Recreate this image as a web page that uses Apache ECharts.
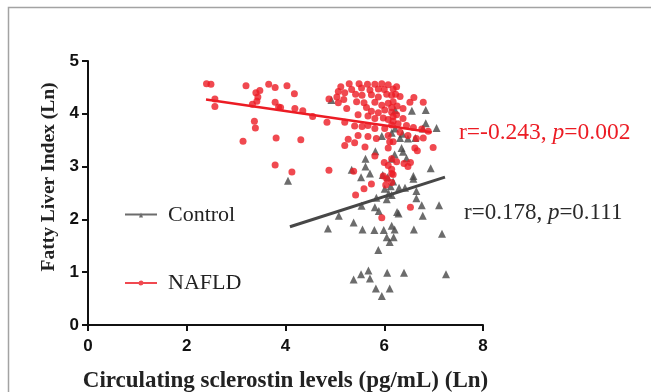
<!DOCTYPE html>
<html>
<head>
<meta charset="utf-8">
<script src="https://cdn.jsdelivr.net/npm/echarts@6/dist/echarts.min.js"></script>
<style>
  html, body { margin: 0; padding: 0; background: #fff; }
  #chart { width: 651px; height: 392px; }
</style>
</head>
<body>
<div id="chart"></div>
<script>
// sclerostin (Ln) vs fatty liver index (Ln)
const nafldPoints = [
  [2.40,4.57],[2.49,4.56],[3.20,4.53],[3.66,4.56],[3.79,4.50],[4.03,4.53],[3.48,4.44],[3.40,4.40],[4.18,4.38],[3.44,4.32],
  [2.57,4.28],[3.42,4.24],[3.33,4.18],[3.79,4.22],[2.57,4.14],[3.86,4.13],[3.90,4.12],[4.19,4.10],[4.35,4.06],[4.55,3.95],
  [4.84,3.84],[4.88,4.28],[3.37,3.86],[3.39,3.73],[3.14,3.48],[3.81,3.54],[4.31,3.51],[3.79,3.03],[4.13,2.90],[4.88,2.93],
  [5.29,4.57],[5.49,4.57],[5.66,4.56],[5.81,4.56],[5.95,4.57],[6.08,4.55],[5.12,4.51],[5.34,4.46],[5.54,4.49],[5.71,4.45],
  [5.88,4.47],[6.00,4.46],[5.07,4.42],[5.20,4.40],[5.04,4.32],[5.18,4.27],[5.42,4.37],[5.55,4.35],[5.74,4.36],[5.88,4.32],
  [6.05,4.37],[6.15,4.35],[5.07,4.21],[5.24,4.10],[5.44,4.23],[5.59,4.21],[5.64,4.12],[5.81,4.22],[5.95,4.16],[6.08,4.20],
  [6.15,4.12],[5.74,4.05],[5.88,4.02],[6.01,4.07],[6.15,4.03],[5.47,3.98],[5.67,3.96],[5.81,3.91],[5.98,3.92],[6.08,3.89],
  [6.18,3.95],[5.20,3.84],[5.40,3.77],[5.55,3.76],[5.67,3.78],[5.81,3.72],[6.01,3.72],[6.15,3.79],[5.27,3.52],[5.47,3.59],
  [5.67,3.57],[5.84,3.53],[6.08,3.59],[5.20,3.40],[5.40,3.45],[5.61,3.37],[6.11,3.47],
  [6.18,4.47],[6.25,4.51],[6.23,4.37],[6.32,4.33],[6.52,4.22],[6.60,4.31],[6.79,4.22],[6.18,4.23],[6.26,4.15],[6.38,4.10],
  [6.25,3.98],[6.38,3.91],[6.18,3.86],[6.28,3.81],[6.45,3.78],[6.59,3.74],[6.76,3.71],[6.89,3.67],[6.32,3.65],[6.48,3.59],
  [6.65,3.53],[6.79,3.54],[6.99,3.36],[6.62,3.35],[6.18,3.47],
  [6.08,3.35],[5.38,2.91],[5.81,3.20],[6.00,3.08],[6.08,3.02],[6.15,3.15],[5.98,2.82],[6.05,2.77],[6.15,2.87],[5.74,2.67],
  [5.59,2.58],[6.03,2.65],[5.42,2.46],[5.95,2.03],
  [6.67,3.30],[6.25,3.09],[6.40,3.06],[6.53,3.08],[6.48,3.00],[6.15,2.95],[6.18,2.85],[6.15,2.70],[6.53,2.23]
];

const controlPoints = [
  [4.05,2.73],[6.22,4.07],[6.56,4.06],[6.84,4.07],[6.84,3.82],[6.78,3.72],[7.06,3.73],[6.37,3.62],[6.32,3.54],[6.48,3.53],
  [6.63,3.54],[6.22,3.72],[6.15,3.64],[6.35,3.35],[4.93,4.26],[5.95,3.58],
  [5.82,3.29],[5.62,3.15],[5.62,3.00],[5.34,2.94],[5.71,2.87],[5.53,2.80],[6.07,2.80],[6.01,2.58],[6.13,2.63],[5.84,2.41],
  [5.54,2.26],[5.81,2.23],[5.89,2.16],[5.08,2.07],[5.38,1.94],
  [6.38,3.28],[6.21,3.23],[6.15,3.15],[6.45,3.16],[6.94,2.97],[6.59,2.82],[6.59,2.77],[6.18,2.72],[6.30,2.60],[6.42,2.60],
  [6.65,2.40],[6.76,2.27],[7.11,2.27],[6.26,2.14],[6.78,2.07],[6.15,2.46],
  [5.97,2.84],[6.65,2.54],[6.09,2.49],[6.05,2.38],[6.29,2.11],[4.86,1.83],[5.56,1.81],[5.80,1.80],[5.99,1.80],[6.15,1.88],
  [6.21,1.81],[6.05,1.66],[6.19,1.66],[6.11,1.57],[6.60,1.81],[7.17,1.73],[5.88,1.42],[5.38,0.86],[5.53,0.96],[5.68,1.03],
  [5.71,0.88],[6.06,0.99],[6.40,0.99],[5.83,0.69],[6.11,0.69],[5.95,0.55],[7.25,0.96]
];

// fitted lines (end points)
const nafldFit = [[2.39, 4.27], [6.96, 3.65]];
const controlFit = [[4.09, 1.86], [7.23, 2.80]];

const xTicks = [0, 2, 4, 6, 8];
const yTicks = [0, 1, 2, 3, 4, 5];

const RED = '#ec1c24';
const GRAY = '#474747';
const serif = '"Liberation Serif", "Times New Roman", serif';
const sans = '"Liberation Sans", Arial, sans-serif';

const chart = echarts.init(document.getElementById('chart'));

const axisCommon = {
  type: 'value',
  axisLine: { show: true, onZero: false, lineStyle: { color: '#111', width: 2 } },
  axisTick: { show: true, inside: false, length: 6, lineStyle: { color: '#111', width: 2 } },
  splitLine: { show: false },
  axisLabel: { color: '#111', fontFamily: sans, fontWeight: 'bold', fontSize: 17 }
};

const option = {
  animation: false,
  backgroundColor: '#fff',
  grid: { left: 88, top: 61, right: 168, bottom: 67, containLabel: false, outerBoundsMode: 'none' },
  xAxis: Object.assign({}, axisCommon, {
    min: xTicks[0], max: xTicks[xTicks.length - 1], interval: 2,
    name: 'Circulating sclerostin levels (pg/mL) (Ln)',
    nameLocation: 'middle', nameGap: 45,
    nameTextStyle: { fontFamily: serif, fontWeight: 'bold', fontSize: 23, color: '#222' },
    axisLabel: Object.assign({}, axisCommon.axisLabel, { margin: 13 })
  }),
  yAxis: Object.assign({}, axisCommon, {
    min: yTicks[0], max: yTicks[yTicks.length - 1], interval: 1,
    name: 'Fatty Liver Index (Ln)',
    nameLocation: 'middle', nameGap: 29,
    nameTextStyle: { fontFamily: serif, fontWeight: 'bold', fontSize: 19.5, color: '#222', padding: [0, 0, 0, 32] },
    axisLabel: Object.assign({}, axisCommon.axisLabel, { margin: 9 })
  }),
  legend: {
    orient: 'vertical', left: 120, top: 199, itemGap: 46,
    itemWidth: 32, itemHeight: 9,
    textStyle: { fontFamily: serif, fontSize: 22, color: '#222', padding: [0, 0, 0, 6] },
    data: [
      { name: 'Control', icon: 'path://M0,4 L32,4 L32,6 L0,6 Z M14,8 L16,3 L18,8 Z' },
      { name: 'NAFLD', icon: 'path://M0,4 L32,4 L32,6 L0,6 Z M16,2.5 A2.5,2.5 0 1 1 15.99,2.5 Z' }
    ]
  },
  series: [
    {
      name: 'Control', type: 'scatter', symbol: 'triangle', symbolSize: 8,
      itemStyle: { color: GRAY }, data: controlPoints, z: 2
    },
    {
      name: 'NAFLD', type: 'scatter', symbol: 'circle', symbolSize: 7,
      itemStyle: { color: RED }, data: nafldPoints, z: 3
    },
    {
      name: 'NAFLD fit', type: 'line', data: nafldFit, symbol: 'none',
      lineStyle: { color: RED, width: 2.5 }, z: 4, silent: true
    },
    {
      name: 'Control fit', type: 'line', data: controlFit, symbol: 'none',
      lineStyle: { color: GRAY, width: 3 }, z: 4, silent: true
    }
  ],
  graphic: [
    {
      type: 'polyline', silent: true,
      shape: { points: [[8.5, 400], [8.5, 7.5], [660, 7.5]] },
      style: { stroke: '#a3a3a3', fill: null, lineWidth: 1.5 }
    },
    {
      type: 'text', left: 459, top: 121,
      style: {
        text: '{a|r=-0.243, }{b|p}{a|=0.002}',
        rich: {
          a: { fontFamily: serif, fontSize: 23.5, fill: RED },
          b: { fontFamily: serif, fontSize: 23.5, fontStyle: 'italic', fill: RED }
        }
      }
    },
    {
      type: 'text', left: 464, top: 201,
      style: {
        text: '{a|r=0.178, }{b|p}{a|=0.111}',
        rich: {
          a: { fontFamily: serif, fontSize: 23, fill: '#2a2a2a' },
          b: { fontFamily: serif, fontSize: 23, fontStyle: 'italic', fill: '#2a2a2a' }
        }
      }
    }
  ]
};

chart.setOption(option);
</script>
</body>
</html>
